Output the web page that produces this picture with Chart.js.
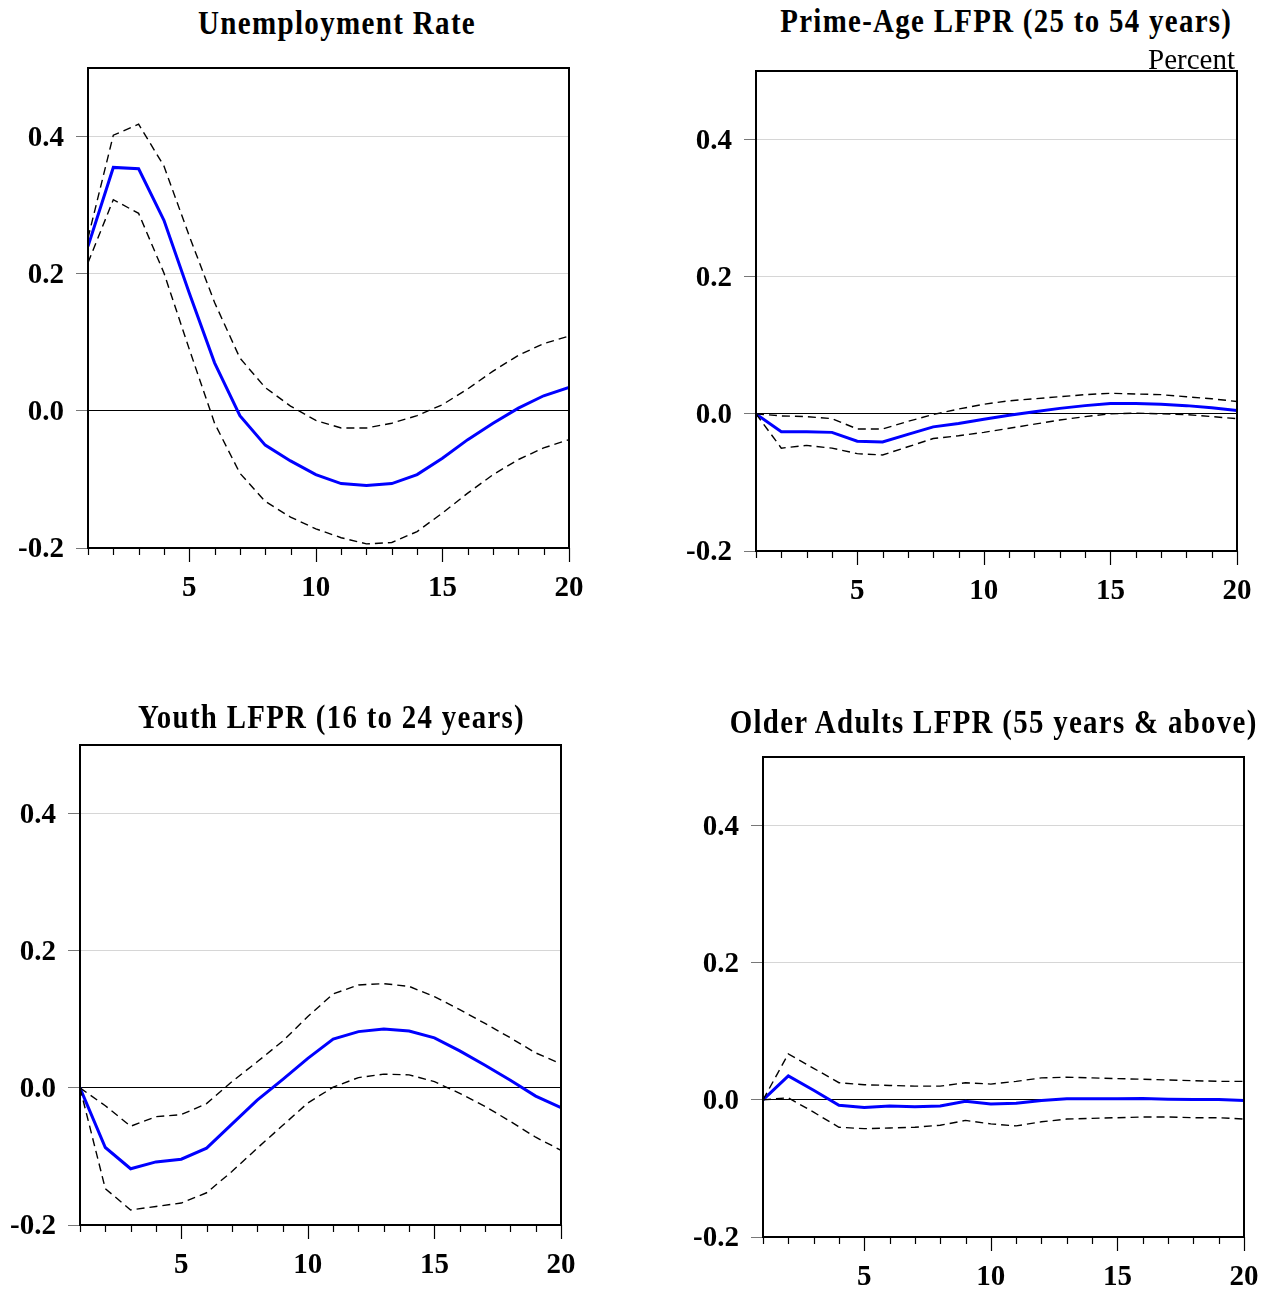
<!DOCTYPE html>
<html>
<head>
<meta charset="utf-8">
<script src="https://cdn.jsdelivr.net/npm/chart.js@4/dist/chart.umd.min.js"></script>
<style>
  html, body { margin: 0; padding: 0; background: #fff; }
  body { width: 1270px; height: 1290px; position: relative; overflow: hidden; }
  canvas { position: absolute; }
  .ttl { position: absolute; white-space: nowrap; font-family: "Liberation Serif", "DejaVu Serif", serif;
         font-weight: bold; font-size: 33px; letter-spacing: 1.5px; color: #000; line-height: 1;
         transform-origin: center top; }
  .unit { position: absolute; white-space: nowrap; font-family: "Liberation Serif", serif;
          font-size: 29px; color: #000; line-height: 1; }
</style>
</head>
<body>
<canvas id="c0"></canvas>
<canvas id="c1"></canvas>
<canvas id="c2"></canvas>
<canvas id="c3"></canvas>
<div class="ttl" id="t0"></div>
<div class="ttl" id="t1"></div>
<div class="ttl" id="t2"></div>
<div class="ttl" id="t3"></div>
<div class="unit" id="u1"></div>
<script>
// ---------------- DATA ----------------
const steps = [1,2,3,4,5,6,7,8,9,10,11,12,13,14,15,16,17,18,19,20];
const yTickValues = [-0.2, 0.0, 0.2, 0.4];
const xTickLabels = [5, 10, 15, 20];

const titles = [
  "Unemployment Rate",
  "Prime-Age LFPR (25 to 54 years)",
  "Youth LFPR (16 to 24 years)",
  "Older Adults LFPR (55 years & above)"
];
const unitLabel = "Percent";

// Unemployment Rate
const unempMid = [0.240,0.355,0.353,0.278,0.172,0.070,-0.007,-0.050,-0.073,-0.093,-0.106,-0.109,-0.106,-0.093,-0.069,-0.042,-0.018,0.004,0.022,0.034];
const unempHi  = [0.252,0.402,0.418,0.357,0.255,0.158,0.077,0.034,0.007,-0.014,-0.025,-0.025,-0.018,-0.007,0.009,0.032,0.058,0.081,0.098,0.109];
const unempLo  = [0.216,0.308,0.288,0.201,0.090,-0.018,-0.091,-0.132,-0.155,-0.172,-0.185,-0.194,-0.192,-0.176,-0.149,-0.120,-0.093,-0.071,-0.054,-0.042];

// Prime-Age LFPR
const primeMid = [0.000,-0.026,-0.026,-0.027,-0.040,-0.041,-0.030,-0.019,-0.014,-0.008,-0.002,0.003,0.008,0.012,0.015,0.015,0.014,0.012,0.009,0.005];
const primeHi  = [0.000,-0.003,-0.004,-0.007,-0.022,-0.022,-0.011,-0.001,0.007,0.014,0.019,0.022,0.025,0.028,0.030,0.029,0.028,0.025,0.022,0.018];
const primeLo  = [0.000,-0.050,-0.046,-0.050,-0.058,-0.060,-0.048,-0.036,-0.032,-0.027,-0.021,-0.015,-0.009,-0.004,0.000,0.001,0.000,-0.001,-0.004,-0.007];

// Youth LFPR
const youthMid = [0.000,-0.087,-0.118,-0.108,-0.104,-0.088,-0.053,-0.018,0.012,0.043,0.071,0.082,0.086,0.083,0.073,0.054,0.033,0.011,-0.012,-0.029];
const youthHi  = [0.000,-0.026,-0.056,-0.042,-0.039,-0.023,0.009,0.038,0.068,0.104,0.137,0.150,0.152,0.148,0.133,0.114,0.094,0.073,0.051,0.035];
const youthLo  = [0.000,-0.147,-0.178,-0.173,-0.168,-0.153,-0.122,-0.088,-0.055,-0.022,0.001,0.015,0.020,0.019,0.009,-0.008,-0.027,-0.049,-0.072,-0.091];

// Older Adults LFPR
const olderMid = [0.000,0.035,0.014,-0.008,-0.011,-0.009,-0.010,-0.009,-0.002,-0.006,-0.005,-0.001,0.0015,0.0015,0.0015,0.002,0.001,0.0005,0.0005,-0.001];
const olderHi  = [0.000,0.067,0.046,0.025,0.022,0.021,0.020,0.020,0.025,0.023,0.027,0.032,0.033,0.032,0.031,0.030,0.029,0.028,0.027,0.027];
const olderLo  = [0.000,0.003,-0.018,-0.040,-0.042,-0.041,-0.040,-0.037,-0.030,-0.035,-0.038,-0.032,-0.028,-0.027,-0.026,-0.025,-0.025,-0.026,-0.026,-0.028];

const panels = [
  [unempMid, unempHi, unempLo],
  [primeMid, primeHi, primeLo],
  [youthMid, youthHi, youthLo],
  [olderMid, olderHi, olderLo]
];

// ---------------- LAYOUT ----------------
// plot rectangles (left, top, right, bottom)
const plotRects = [
  [88, 68, 569, 548],
  [756, 71, 1237, 551],
  [80, 745, 561, 1225],
  [763, 757, 1244, 1237]
];
// title centre x, box top y, target width
const titleBoxes = [
  [337, 7, 278],
  [1006, 5, 452],
  [331, 701, 387],
  [994, 706, 528]
];
const Y_AXIS_W = 88, PAD_TOP = 24, PAD_RIGHT = 22, X_AXIS_H = 62;
const FONT = '"Liberation Serif", "DejaVu Serif", serif';

const framePlugin = {
  id: 'frame',
  afterDraw(chart) {
    const ctx = chart.ctx, a = chart.chartArea, xs = chart.scales.x;
    ctx.save();
    ctx.strokeStyle = '#000';
    ctx.lineWidth = 1.2;
    steps.forEach(v => {
      const px = Math.round(xs.getPixelForValue(v)) + 0.5;
      const len = xTickLabels.includes(v) ? 14 : 7;
      ctx.beginPath();
      ctx.moveTo(px, a.bottom);
      ctx.lineTo(px, a.bottom + len);
      ctx.stroke();
    });
    ctx.lineWidth = 2;
    ctx.strokeRect(a.left, a.top, a.right - a.left, a.bottom - a.top);
    ctx.restore();
  }
};

function buildChart(i) {
  const [l, t, r, b] = plotRects[i];
  const cv = document.getElementById('c' + i);
  const left = l - Y_AXIS_W, top = t - PAD_TOP;
  const w = r - left + PAD_RIGHT, h = b - top + X_AXIS_H;
  cv.style.left = left + 'px'; cv.style.top = top + 'px';
  cv.width = w; cv.height = h;
  cv.style.width = w + 'px'; cv.style.height = h + 'px';
  const [mid, hi, lo] = panels[i];
  const pts = arr => steps.map((s, k) => ({ x: s, y: arr[k] }));
  const dashed = data => ({
    data: pts(data), borderColor: '#000', borderWidth: 1.4, borderDash: [8, 5],
    pointRadius: 0, fill: false, tension: 0
  });
  new Chart(cv, {
    type: 'line',
    data: {
      datasets: [
        dashed(hi),
        dashed(lo),
        { data: pts(mid), borderColor: '#0000ff', borderWidth: 3, pointRadius: 0, fill: false, tension: 0 }
      ]
    },
    options: {
      responsive: false,
      animation: false,
      devicePixelRatio: 1,
      layout: { padding: { top: PAD_TOP, right: PAD_RIGHT, left: 0, bottom: 0 } },
      plugins: { legend: { display: false }, tooltip: { enabled: false }, title: { display: false } },
      scales: {
        x: {
          type: 'linear', min: 1, max: 20,
          afterFit: s => { s.height = X_AXIS_H; s.paddingLeft = 0; s.paddingRight = 0; },
          afterBuildTicks: s => { s.ticks = steps.map(v => ({ value: v })); },
          border: { display: false },
          grid: { display: false },
          ticks: {
            autoSkip: false, maxRotation: 0, padding: 15,
            callback: v => xTickLabels.includes(v) ? String(v) : '',
            font: { family: FONT, size: 29, weight: 'bold' }, color: '#000'
          }
        },
        y: {
          type: 'linear', min: -0.2, max: 0.5,
          afterFit: s => { s.width = Y_AXIS_W; s.paddingTop = 0; s.paddingBottom = 0; },
          afterBuildTicks: s => { s.ticks = yTickValues.map(v => ({ value: v })); },
          border: { display: false },
          grid: {
            color: c => (c.tick && Math.abs(c.tick.value) < 1e-9) ? '#000' : '#d6d6d6',
            lineWidth: 1, tickLength: 12, tickColor: '#777', drawTicks: true
          },
          ticks: {
            padding: 12, labelOffset: 2,
            callback: v => Number(v).toFixed(1),
            font: { family: FONT, size: 29, weight: 'bold' }, color: '#000'
          }
        }
      }
    },
    plugins: [framePlugin]
  });
}

[0, 1, 2, 3].forEach(buildChart);

titles.forEach((txt, i) => {
  const el = document.getElementById('t' + i);
  el.textContent = txt;
  const [cx, ty, tw] = titleBoxes[i];
  const natural = el.getBoundingClientRect().width;
  const k = tw / natural;
  el.style.left = (cx - natural / 2) + 'px';
  el.style.top = ty + 'px';
  el.style.transform = 'scaleX(' + k.toFixed(3) + ')';
});

const u = document.getElementById('u1');
u.textContent = unitLabel;
const uw = u.getBoundingClientRect().width;
u.style.left = (1235 - uw) + 'px';
u.style.top = '45px';
</script>
</body>
</html>
